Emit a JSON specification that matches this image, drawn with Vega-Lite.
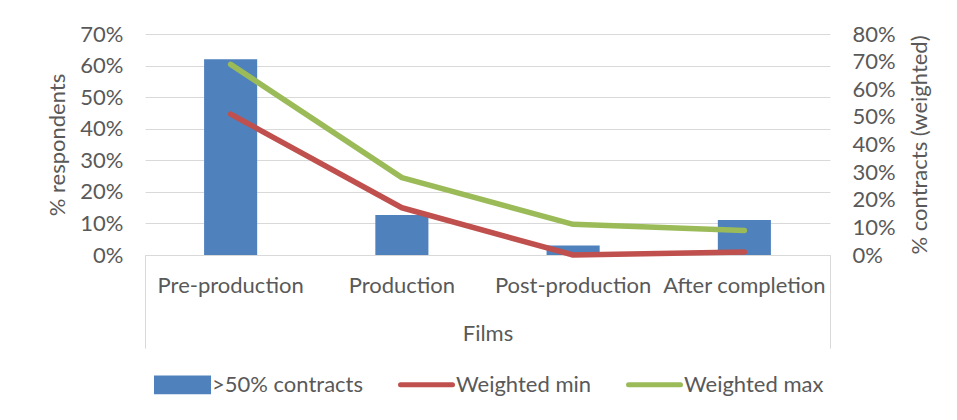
{
  "$schema": "https://vega.github.io/schema/vega-lite/v6.json",
  "width": 685,
  "height": 221,
  "autosize": {"type": "none"},
  "padding": {"left": 145, "top": 34, "right": 127, "bottom": 165},
  "background": "white",
  "config": {
    "font": "Lato",
    "view": {"stroke": null},
    "axis": {
      "labelFont": "Lato",
      "titleFont": "Lato",
      "labelColor": "#595959",
      "titleColor": "#595959",
      "labelFontSize": 22,
      "titleFontSize": 22,
      "titleFontWeight": "normal"
    }
  },
  "data": {
    "values": [
      {"stage": "Pre-production", "order": 0, "contracts": 0.62, "wmin": 0.51, "wmax": 0.69},
      {"stage": "Production", "order": 1, "contracts": 0.127, "wmin": 0.171, "wmax": 0.28},
      {"stage": "Post-production", "order": 2, "contracts": 0.03, "wmin": 0.0, "wmax": 0.111},
      {"stage": "After completion", "order": 3, "contracts": 0.111, "wmin": 0.011, "wmax": 0.089}
    ]
  },
  "layer": [
    {
      "mark": {"type": "bar"},
      "encoding": {
        "x": {
          "field": "stage",
          "type": "nominal",
          "sort": null,
          "scale": {"paddingInner": 0.69, "paddingOuter": 0.345},
          "axis": {
            "orient": "bottom",
            "title": "Films",
            "labelAngle": 0,
            "ticks": false,
            "domainColor": "#d9d9d9",
            "domainWidth": 1,
            "labelPadding": 20,
            "titlePadding": 27,
            "grid": false,
            "labelOverlap": false
          }
        },
        "y": {
          "field": "contracts",
          "type": "quantitative",
          "scale": {"domain": [0, 0.7], "nice": false},
          "axis": {
            "orient": "left",
            "values": [0, 0.1, 0.2, 0.3, 0.4, 0.5, 0.6, 0.7],
            "format": ".0%",
            "grid": true,
            "gridColor": "#d9d9d9",
            "gridWidth": 1,
            "ticks": false,
            "domain": false,
            "labelPadding": 22,
            "title": "% respondents",
            "titlePadding": 10
          }
        },
        "color": {
          "datum": ">50% contracts",
          "type": "nominal",
          "scale": {
            "domain": [">50% contracts", "Weighted min", "Weighted max"],
            "range": ["#4F81BD", "#C0504D", "#9BBB59"]
          },
          "legend": {
            "orient": "none",
            "legendX": 9,
            "legendY": 322,
            "direction": "horizontal",
            "columns": 3,
            "title": null,
            "labelFont": "Lato",
            "labelFontSize": 22,
            "labelColor": "#595959",
            "labelOffset": 1,
            "columnPadding": 26,
            "symbolSize": 2704,
            "symbolStrokeWidth": 5,
            "encode": {
              "symbols": {
                "update": {
                  "shape": {"signal": "datum.value === '>50% contracts' ? 'M-1,-0.26H1V0.26H-1Z' : 'M-1,-0.26M1,0.26M-1,0H1'"},
                  "fill": {"signal": "datum.value === '>50% contracts' ? '#4F81BD' : 'transparent'"},
                  "stroke": {"signal": "datum.value === '>50% contracts' ? 'transparent' : (datum.value === 'Weighted min' ? '#C0504D' : '#9BBB59')"},
                  "strokeWidth": {"value": 5},
                  "strokeCap": {"value": "round"},
                  "opacity": {"value": 1}
                }
              }
            }
          }
        }
      }
    },
    {
      "encoding": {
        "x": {
          "field": "order",
          "type": "quantitative",
          "scale": {"domain": [-0.5, 3.5], "nice": false, "zero": false},
          "axis": {
            "orient": "bottom",
            "values": [-0.5, 3.5],
            "tickSize": 93,
            "tickColor": "#d9d9d9",
            "tickWidth": 1,
            "labels": false,
            "domain": false,
            "grid": false,
            "title": null
          }
        }
      },
      "layer": [
        {
          "mark": {"type": "line", "strokeWidth": 5.5, "strokeCap": "round", "strokeJoin": "round"},
          "encoding": {
            "y": {
              "field": "wmin",
              "type": "quantitative",
              "scale": {"domain": [0, 0.8], "nice": false},
              "axis": {
                "orient": "right",
                "values": [0, 0.1, 0.2, 0.3, 0.4, 0.5, 0.6, 0.7, 0.8],
                "format": ".0%",
                "grid": false,
                "ticks": false,
                "domain": false,
                "labelPadding": 22,
                "title": "% contracts (weighted)",
                "titleAngle": 270,
                "titlePadding": 36
              }
            },
            "color": {"datum": "Weighted min", "type": "nominal"}
          }
        },
        {
          "mark": {"type": "line", "strokeWidth": 5.5, "strokeCap": "round", "strokeJoin": "round"},
          "encoding": {
            "y": {
              "field": "wmax",
              "type": "quantitative",
              "scale": {"domain": [0, 0.8], "nice": false},
              "axis": {
                "orient": "right",
                "values": [0, 0.1, 0.2, 0.3, 0.4, 0.5, 0.6, 0.7, 0.8],
                "format": ".0%",
                "grid": false,
                "ticks": false,
                "domain": false,
                "labelPadding": 22,
                "title": "% contracts (weighted)",
                "titleAngle": 270,
                "titlePadding": 36
              }
            },
            "color": {"datum": "Weighted max", "type": "nominal"}
          }
        }
      ]
    }
  ],
  "resolve": {"scale": {"y": "independent", "x": "independent"}}
}
